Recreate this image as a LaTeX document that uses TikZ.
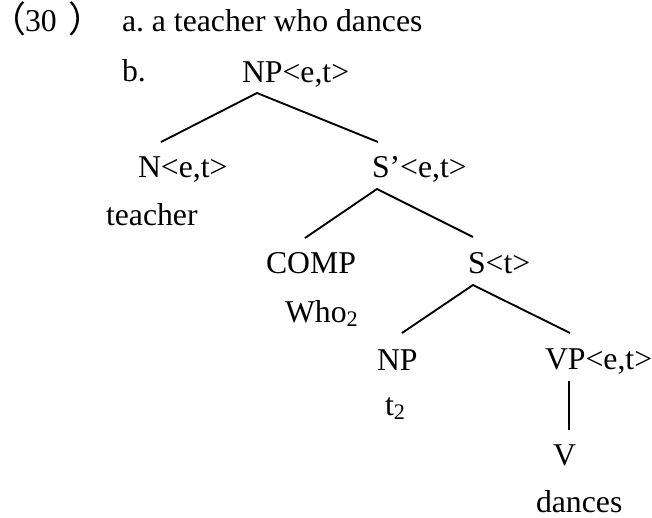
\documentclass[tikz,border=0pt]{standalone}
\usepackage{fontspec}
\setmainfont{Liberation Serif}
\newfontfamily\cjk[RawFeature=+halt]{Noto Sans CJK SC}
\frenchspacing
\begin{document}
\begin{tikzpicture}[x=0.75pt,y=-0.75pt,
  lbl/.style={inner sep=0pt,outer sep=0pt,anchor=base west,font=\fontsize{23.8pt}{28pt}\selectfont},
  edge/.style={line width=1.4pt}]
\useasboundingbox (0,0) rectangle (652,517);
\node[lbl] (lp) at (9,33) {\cjk\fontsize{27pt}{30pt}\selectfont （};
\node[lbl] (num) at (25,32) {30};
\node[lbl,anchor=base] (rp) at (77,33) {\cjk\fontsize{27pt}{30pt}\selectfont ）};
\node[lbl] (a) at (122,32) {a. a teacher who dances};
\node[lbl] (b) at (122,81) {b.};
\node[lbl] (np) at (242,82) {NP<e,t>};
\node[lbl] (n) at (138,177) {N<e,t>};
\node[lbl] (teacher) at (106,225) {teacher};
\node[lbl] (sbar) at (372,177) {S’<e,t>};
\node[lbl] (comp) at (266,273) {COMP};
\node[lbl] (who) at (285,322) {Who\textsubscript{2}};
\node[lbl] (s) at (468,273) {S<t>};
\node[lbl] (np2) at (377,370) {NP};
\node[lbl] (t2) at (385,415) {t\textsubscript{2}};
\node[lbl] (vp) at (545,369) {VP<e,t>};
\node[lbl] (v) at (553,465) {V};
\node[lbl] (dances) at (536,512) {dances};
\coordinate (npA) at (257,93);
\coordinate (nT) at (161,142);
\coordinate (sbarT) at (378,142);
\coordinate (sbarA) at (377,189);
\coordinate (compT) at (305,238);
\coordinate (sT) at (473,237);
\coordinate (sA) at (473,285);
\coordinate (np2T) at (402,333);
\coordinate (vpT) at (570,333);
\coordinate (vpA) at (569,381);
\coordinate (vT) at (569,430);
\draw[edge] (nT) -- (npA) -- (sbarT);
\draw[edge] (compT) -- (sbarA) -- (sT);
\draw[edge] (np2T) -- (sA) -- (vpT);
\draw[edge] (vpA) -- (vT);
\end{tikzpicture}
\end{document}
